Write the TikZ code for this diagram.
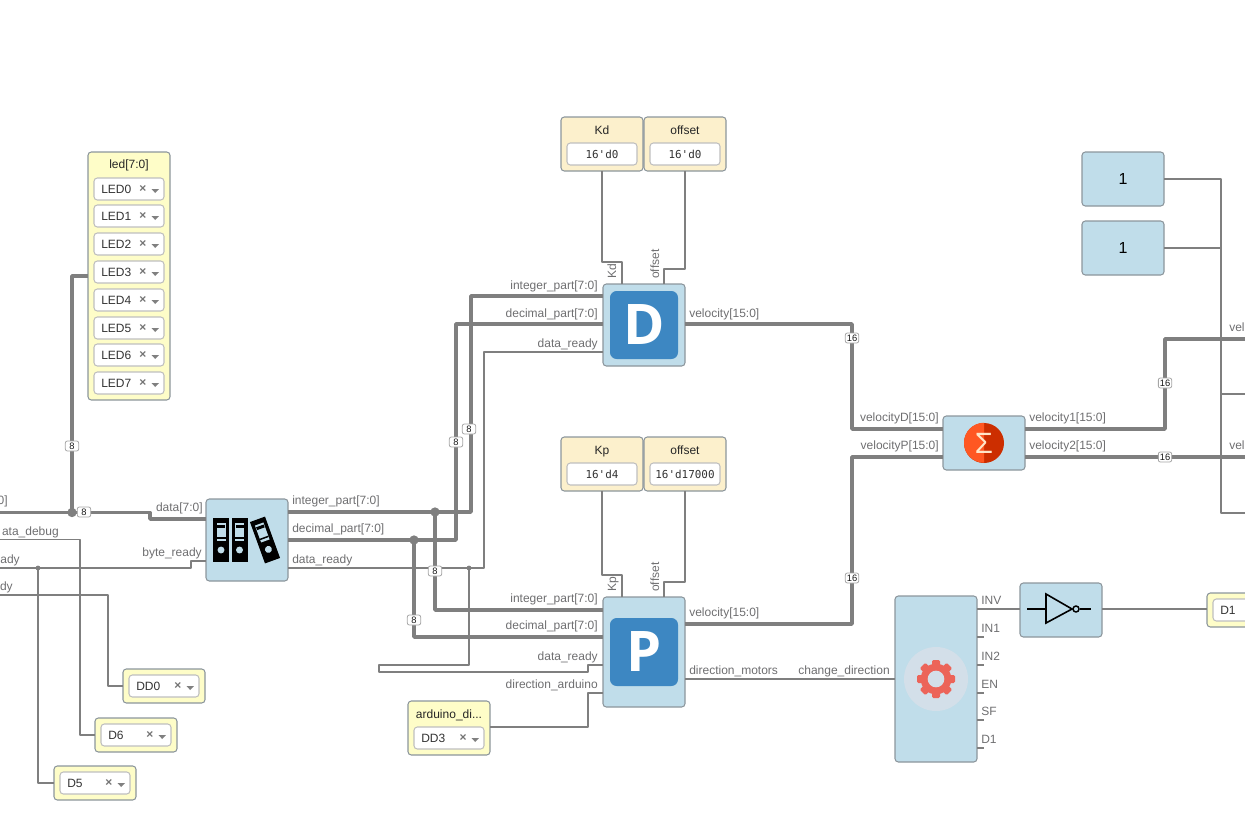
\documentclass[tikz,border=0pt]{standalone}
\usepackage{fontspec}
\setmainfont{Liberation Sans}
\newfontfamily\valuefont{DejaVu Sans Mono}
\newfontfamily\letterfont{Open Sans}
\usetikzlibrary{positioning}

\definecolor{blockblue}{HTML}{C0DDEA}
\definecolor{blockline}{HTML}{8C969C}
\definecolor{lettersq}{HTML}{3D87C2}
\definecolor{paramfill}{HTML}{FCF0CC}
\definecolor{selfill}{HTML}{FEFDC8}
\definecolor{wiregray}{HTML}{7F7F7F}
\definecolor{labelgray}{HTML}{6E6E70}
\definecolor{gearred}{HTML}{EC6459}
\definecolor{gearback}{HTML}{D3DFE9}
\definecolor{sumleft}{HTML}{FF5722}
\definecolor{sumright}{HTML}{CC2E00}
\definecolor{sumsign}{HTML}{FFE6C8}

\tikzset{
  block/.style={draw=blockline,fill=blockblue,rounded corners=2.5pt,line width=.8pt,minimum width=61.5pt,inner sep=0,outer sep=0},
  param/.style={block,fill=paramfill,minimum height=40.5pt},
  selbox/.style={block,fill=selfill},
  field/.style={draw=black!25,fill=white,rounded corners=2.5pt,line width=.8pt,minimum width=52.5pt,minimum height=16.5pt,inner sep=0,outer sep=0},
  valuefield/.style={field,font=\valuefont\fontsize{8.2}{10}\selectfont,text=black!80},
  headtext/.style={anchor=base,font=\fontsize{9}{11}\selectfont,text=black!85,inner sep=0},
  fieldtext/.style={font=\fontsize{9}{11}\selectfont,text=black!80,inner sep=0},
  wirelabel/.style={font=\fontsize{9}{11}\selectfont,text=labelgray,inner sep=0},
  wire/.style={draw=wiregray,line width=.95pt,line join=round},
  bus/.style={draw=wiregray,line width=2.7pt,line join=round},
  wiretag/.style={draw=black!35,fill=white,rounded corners=1.5pt,line width=.6pt,minimum width=10pt,minimum height=7.5pt,inner sep=0,font=\fontsize{7}{7}\selectfont,text=black!90},
  jointbig/.style={circle,fill=wiregray,minimum size=7pt,inner sep=0},
  jointsmall/.style={circle,fill=wiregray,minimum size=3.6pt,inner sep=0},
  lettersq/.style={fill=lettersq,rounded corners=5pt,minimum size=51pt,inner sep=0,text=white,font=\letterfont\bfseries\fontsize{42}{42}\selectfont},
  binder/.pic={
    \fill[black] (-8,-22) rectangle (8,22);
    \fill[blockblue] (-4.5,-17) rectangle (4.5,1);
    \fill[black] (-4,-15) rectangle (4,-12);
    \fill[black] (-4.5,-3) rectangle (4.5,-1.5);
    \fill[blockblue] (0,10) circle[radius=2.6pt];
  }
}

% select field with its clear mark and drop arrow
\newcommand{\selfield}[4]{
  \node[field] (#1) at (#2+35,#3) {};
  \node[fieldtext,anchor=west] (#1_txt) at (#2+7,#3) {#4};
  \node[font=\bfseries\fontsize{9}{9}\selectfont,text=black!55,inner sep=0] (#1_clr) at (#2+49,#3) {×};
  \fill[black!50] (#2+57.5,#3) -- (#2+65,#3) -- (#2+61.2,#3+4) -- cycle;
}

\begin{document}
\begin{tikzpicture}[x=.75pt,y=-.75pt,node distance=62.25pt,on grid]
  \useasboundingbox (0,0) rectangle (1245,839);
  \clip (0,0) rectangle (1245,839);

  % main blocks
  \node[block,minimum height=61.5pt] (blk_file) at (247,540) {};
  \node[block,minimum height=61.5pt] (blk_d) at (644,325) {};
  \node[block,minimum height=82.5pt] (blk_p) at (644,652) {};
  \node[block,minimum height=40.5pt] (blk_sum) at (984,443) {};
  \node[block,minimum height=124.5pt] (blk_gear) at (936,679) {};
  \node[block,minimum height=40.5pt] (blk_not) at (1061,610) {};
  \node[block,minimum height=40.5pt,font=\fontsize{12}{14}\selectfont] (blk_one_a) at (1123,179) {1};
  \node[block,minimum height=40.5pt,font=\fontsize{12}{14}\selectfont] (blk_one_b) at (1123,248) {1};

  \node[lettersq] (sq_d) at (blk_d) {D};
  \node[lettersq] (sq_p) at (blk_p) {P};

  % parameters
  \node[param] (par_kd) at (602,144) {};
  \node[param] (par_off_d) [right=of par_kd] {};
  \node[param] (par_kp) at (602,464) {};
  \node[param] (par_off_p) [right=of par_kp] {};
  \foreach \n/\x/\y/\t/\v in {kd/602/134/Kd/16'd0,off_d/685/134/offset/16'd0,kp/602/454/Kp/16'd4,off_p/685/454/offset/16'd17000} {
    \node[headtext] (head_\n) at (\x,\y) {\t};
    \node[valuefield] (val_\n) at (\x,\y+20) {\v};
  }

  % selectors
  \node[selbox,minimum height=186pt] (sel_led) at (129,276) {};
  \node[headtext] (head_led) at (129,168) {led[7:0]};
  \foreach \i/\y in {0/189,1/216,2/244,3/272,4/300,5/328,6/355,7/383}
    \selfield{led\i}{94}{\y}{LED\i};
  \node[selbox,minimum height=25.5pt] (sel_dd0) at (164,686) {};
  \selfield{dd0}{129}{686}{DD0}
  \node[selbox,minimum height=25.5pt] (sel_d6) at (136,735) {};
  \selfield{d6}{101}{735}{D6}
  \node[selbox,minimum height=25.5pt] (sel_d5) at (95,783) {};
  \selfield{d5}{60}{783}{D5}
  \node[selbox,minimum height=40.5pt] (sel_ard) at (449,728) {};
  \node[headtext] (head_ard) at (449,718) {arduino\_di...};
  \selfield{dd3}{414}{738}{DD3}
  \node[selbox,minimum height=25.5pt] (sel_d1) at (1248,610) {};
  \node[field] (d1) at (1248,610) {};
  \node[fieldtext,anchor=west] (d1_txt) at (1220,610) {D1};

  % free ends at the picture border
  \coordinate (lft_data) at (0,512.5);
  \coordinate (lft_debug) at (0,539.5);
  \coordinate (lft_byte) at (0,568);
  \coordinate (lft_ready) at (0,595);
  \coordinate (rgt_v1) at (1245,339);
  \coordinate (rgt_v2) at (1245,457);
  \coordinate (rgt_a) at (1245,394);
  \coordinate (rgt_b) at (1245,513);

  % wires
  \draw[bus] (lft_data) -- (150,512.5) -- (150,519) -- (blk_file.west |- 0,519);
  \draw[bus] (72,512.5) |- (sel_led.west |- 0,276);
  \draw[wire] (lft_debug) -- (80,539.5) |- (sel_d6.west);
  \draw[wire] (lft_byte) -- (191,568) -- (191,561) -- (blk_file.west |- 0,561);
  \draw[wire] (38,568) |- (sel_d5.west);
  \draw[wire] (lft_ready) -- (108,595) |- (sel_dd0.west);

  \draw[bus] (blk_file.east |- 0,512) -- (471,512) |- (blk_d.west |- 0,296);
  \draw[bus] (blk_file.east |- 0,540) -- (456,540) |- (blk_d.west |- 0,324);
  \draw[wire] (blk_file.east |- 0,568) -- (484,568) |- (blk_d.west |- 0,352);
  \draw[bus] (435,512) |- (blk_p.west |- 0,610);
  \draw[bus] (414,540) |- (blk_p.west |- 0,637);
  \draw[wire] (469,568) |- (379,665) -- (379,672) -- (588,672) -- (588,665) -- (blk_p.west |- 0,665);
  \draw[wire] (sel_ard.east |- 0,727) -- (588,727) |- (blk_p.west |- 0,693);

  \draw[wire] (par_kd.south) |- (622,262) -- (622,0 |- blk_d.north);
  \draw[wire] (par_off_d.south) |- (664,269) -- (664,0 |- blk_d.north);
  \draw[wire] (par_kp.south) |- (622,575) -- (622,0 |- blk_p.north);
  \draw[wire] (par_off_p.south) |- (664,582) -- (664,0 |- blk_p.north);

  \draw[bus] (blk_d.east |- 0,324) -- (852,324) |- (blk_sum.west |- 0,429);
  \draw[bus] (blk_p.east |- 0,624) -- (852,624) |- (blk_sum.west |- 0,457);
  \draw[bus] (blk_sum.east |- 0,429) -- (1165,429) |- (rgt_v1);
  \draw[bus] (blk_sum.east |- 0,457) -- (rgt_v2);

  \draw[wire] (blk_one_a.east) -- (1221,179) |- (rgt_b);
  \draw[wire] (blk_one_b.east) -- (1221,248);
  \draw[wire] (1221,394) -- (rgt_a);

  \draw[wire] (blk_p.east |- 0,679) -- (blk_gear.west);
  \draw[wire] (blk_gear.east |- 0,609) -- (blk_not.west |- 0,609);
  \draw[wire] (blk_not.east |- 0,609) -- (sel_d1.west |- 0,609);
  \foreach \y in {637,665,693,720,748}
    \draw[wire] (blk_gear.east |- 0,\y) -- +(7,0);

  % joints and width tags
  \node[jointbig] (jn_data) at (72,512.5) {};
  \node[jointbig] (jn_int) at (435,512) {};
  \node[jointbig] (jn_dec) at (414,540) {};
  \node[jointsmall] (jn_byte) at (38,568) {};
  \node[jointsmall] (jn_rdy) at (469,568) {};
  \foreach \n/\x/\y/\t in {a/72/446/8,b/84/512/8,c/469/429/8,d/456/442/8,e/435/571/8,f/414/620/8,g/852/338/16,h/852/578/16,i/1165/383/16,j/1165/457/16}
    \node[wiretag] (tag_\n) at (\x,\y) {\t};

  % wire labels, base line right
  \foreach \x/\y/\t [count=\i] in {8/504/0],59/535/ata\_debug,20/563/ady,13/590/dy,203/511/data[7:0],202/556/byte\_ready,
      598/289/integer\_part[7:0],598/317/decimal\_part[7:0],598/347/data\_ready,
      598/602/integer\_part[7:0],598/629/decimal\_part[7:0],598/660/data\_ready,598/688/direction\_arduino,
      939/421/velocityD[15:0],939/449/velocityP[15:0],890/674/change\_direction}
    \node[wirelabel,anchor=base east] (lbl_r\i) at (\x,\y) {\t};
  % wire labels, base line left
  \foreach \x/\y/\t [count=\i] in {292/504/integer\_part[7:0],292/532/decimal\_part[7:0],292/563/data\_ready,
      689/317/velocity[15:0],689/616/velocity[15:0],689/674/direction\_motors,
      1029/421/velocity1[15:0],1029/449/velocity2[15:0],1229/331/vel,1229/449/vel,
      981/604/INV,981/632/IN1,981/660/IN2,981/688/EN,981/715/SF,981/743/D1}
    \node[wirelabel,anchor=base west] (lbl_l\i) at (\x,\y) {\t};
  \foreach \n/\x/\y/\t in {kd/616/279/Kd,off_d/659/279/offset,kp/616/592/Kp,off_p/659/592/offset}
    \node[wirelabel,rotate=90,anchor=base west] (lbl_\n) at (\x,\y) {\t};

  % file block icon
  \pic at (221,540) {binder};
  \pic at (239.5,540) {binder};
  \pic[rotate=20] at (265,540) {binder};

  % sum icon
  \node[circle,fill=sumright,minimum size=30pt,inner sep=0] (sum_disc) at (blk_sum) {};
  \fill[sumleft] (sum_disc.north) arc[start angle=90,end angle=270,radius=15pt] -- cycle;
  \node[text=sumsign,font=\fontsize{22}{22}\selectfont,inner sep=0] (sum_sign) at (sum_disc) {Σ};

  % gear icon
  \node[circle,fill=gearback,minimum size=48pt,inner sep=0] (gear_back) at (blk_gear) {};
  \foreach \a in {0,45,...,315}
    \fill[gearred,rounded corners=1pt,rotate around={\a:(936,679)}] (932,660) rectangle (940,670);
  \node[circle,fill=gearred,minimum size=23pt,inner sep=0] (gear_body) at (gear_back) {};
  \node[circle,fill=gearback,minimum size=12.5pt,inner sep=0] (gear_hole) at (gear_back) {};

  % inverter icon
  \node[draw=black,circle,line width=1.1pt,minimum size=4.5pt,inner sep=0] (not_ring) at (1076,609) {};
  \draw[black,line width=1.1pt] (1027,609) -- (1046,609);
  \draw[black,line width=1.2pt,line join=miter] (1046,594) -- (1072,609) -- (1046,623) -- cycle;
  \draw[black,line width=1.1pt] (not_ring.east) -- (1091,609);
\end{tikzpicture}
\end{document}
